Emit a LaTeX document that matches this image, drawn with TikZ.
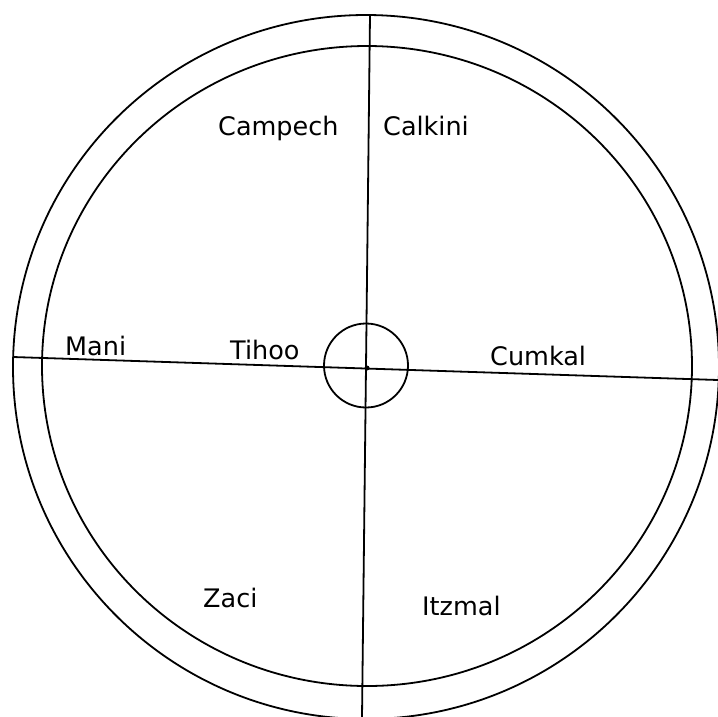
\documentclass[tikz,border=0pt]{standalone}
\usepackage{fontspec}
\setmainfont{DejaVu Sans}
\begin{document}
\begin{tikzpicture}[x=1pt,y=-1pt,
  ring/.style={draw=black,line width=1.8pt},
  axis/.style={draw=black,line width=1.8pt},
  place/.style={anchor=base west,inner sep=0pt,font=\fontsize{25.5}{28}\selectfont}]
\useasboundingbox (0,0) rectangle (718,716);
\clip (0,0) rectangle (718,716);
\fill[white] (0,0) rectangle (718,716);
% rings
\draw[ring] (366,367) ellipse [x radius=353, y radius=352];
\draw[ring] (367,366) ellipse [x radius=325, y radius=320];
\draw[ring] (366,365.5) circle [radius=42];
% axes
\coordinate (n) at (370,15);
\coordinate (s) at (362,718);
\coordinate (w) at (13,357);
\coordinate (e) at (718,380);
\draw[axis] (n) -- (s);
\draw[axis] (w) -- (e);
\fill (367,368) circle [radius=2.5];
% labels
\node[place] (campech) at (218,135) {Campech};
\node[place] (calkini) at (383,135) {Calkini};
\node[place] (mani) at (65,355) {Mani};
\node[place] (tihoo) at (230,359) {Tihoo};
\node[place] (cumkal) at (490,365) {Cumkal};
\node[place] (zaci) at (203,607) {Zaci};
\node[place] (itzmal) at (422,615) {Itzmal};
\end{tikzpicture}
\end{document}
